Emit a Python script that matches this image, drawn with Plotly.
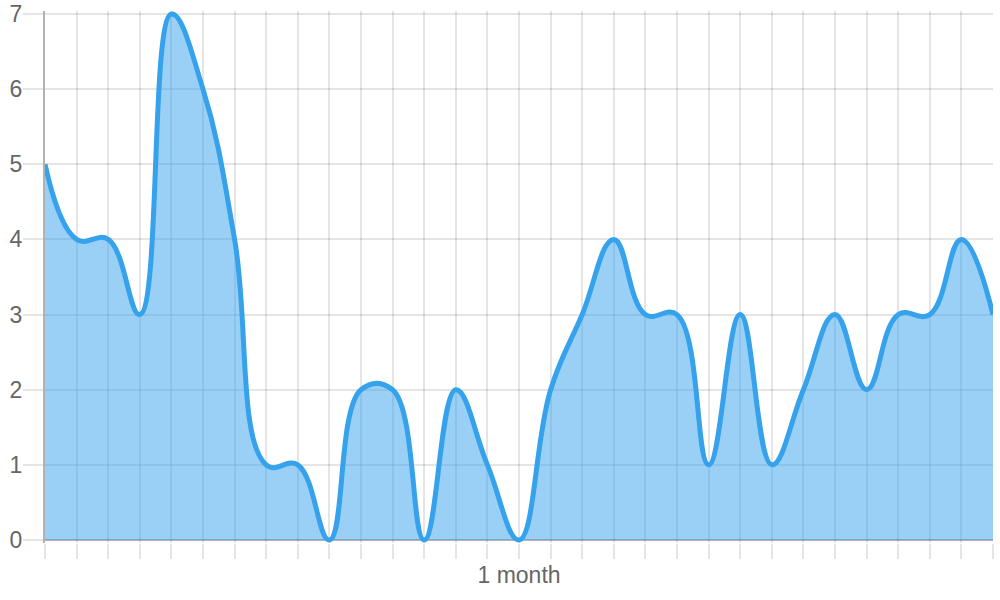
import plotly.graph_objects as go

# Data (one value per day)
days = list(range(31))
values = [5, 4, 4, 3, 7, 6, 4, 1, 1, 0, 2, 2, 0, 2, 1, 0,
          2, 3, 4, 3, 3, 1, 3, 1, 2, 3, 2, 3, 3, 4, 3]
x_tick_labels = [""] * 31
x_tick_labels[15] = "1 month"
y_ticks = [0, 1, 2, 3, 4, 5, 6, 7]

LINE = "#36a2eb"
FILL = "rgba(54,162,235,0.5)"
GRID = "rgba(0,0,0,0.1)"
AXIS = "rgba(0,0,0,0.3)"
FONT = "Liberation Sans, Arial, sans-serif"
FSIZE = 23

fig = go.Figure()
fig.add_trace(go.Scatter(
    x=days, y=values,
    mode="lines",
    line=dict(color=LINE, width=5, shape="spline", smoothing=1.2),
    fill="tozeroy", fillcolor=FILL,
    hoverinfo="x+y",
))

fig.update_layout(
    width=1000, height=600,
    margin=dict(l=45, r=7, t=11, b=57),
    paper_bgcolor="white", plot_bgcolor="white",
    showlegend=False,
    font=dict(family=FONT, size=FSIZE, color="#666666"),
    xaxis=dict(
        range=[0, 30], automargin=False,
        tickmode="array", tickvals=days, ticktext=x_tick_labels,
        showgrid=True, gridcolor=GRID, gridwidth=2,
        ticks="outside", ticklen=15, tickcolor=GRID, tickwidth=2,
        ticklabelstandoff=-4,
        showline=False, zeroline=False,
        tickfont=dict(family=FONT, size=FSIZE, color="#666666"),
    ),
    yaxis=dict(
        range=[-0.04, 7.04], automargin=False,
        tickmode="array", tickvals=y_ticks,
        showgrid=True, gridcolor=GRID, gridwidth=2,
        ticks="outside", ticklen=20, tickcolor=GRID, tickwidth=2,
        ticklabelstandoff=-4,
        showline=True, linecolor=AXIS, linewidth=2,
        zeroline=True, zerolinecolor=AXIS, zerolinewidth=2,
        tickfont=dict(family=FONT, size=FSIZE, color="#666666"),
    ),
)

fig.write_html(
    "out.html",
    config={"displayModeBar": False},
    post_script="document.body.style.margin='0';",
)
